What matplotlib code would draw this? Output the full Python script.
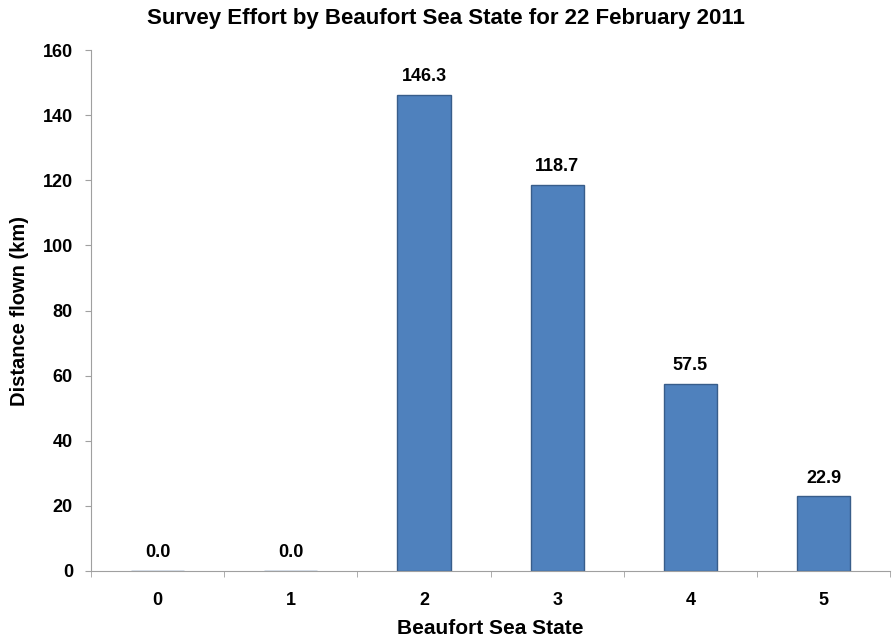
import matplotlib.pyplot as plt
import numpy as np

plt.rcParams['font.family'] = ['Liberation Sans', 'DejaVu Sans']
plt.rcParams['font.weight'] = 'bold'

# data
sea_states = ['0', '1', '2', '3', '4', '5']
distance_km = [0.0, 0.0, 146.3, 118.7, 57.5, 22.9]

fig = plt.figure(figsize=(8.92, 6.43), dpi=100)
ax = fig.add_axes([0.102, 0.112, 0.896, 0.81])

x = np.arange(len(sea_states))
ax.bar(x, distance_km, width=0.4, color='#4F81BD', edgecolor='#385D8A', linewidth=1)

for xi, v in zip(x, distance_km):
    ax.text(xi, v + 3, f'{v:.1f}', ha='center', va='bottom', fontsize=13, fontweight='bold')

ax.set_xlim(-0.5, len(sea_states) - 0.5)
ax.set_ylim(0, 160)
ax.set_yticks(np.arange(0, 161, 20))
ax.set_xticks(x)
ax.set_xticklabels(sea_states)
ax.set_xticks(np.arange(-0.5, len(sea_states), 1), minor=True)
ax.tick_params(axis='x', which='major', length=0, pad=15, labelsize=13)
ax.tick_params(axis='x', which='minor', length=4, color='#A0A0A0')
ax.tick_params(axis='y', length=4, color='#A0A0A0', labelsize=13, pad=9)

for s in ['top', 'right']:
    ax.spines[s].set_visible(False)
for s in ['left', 'bottom']:
    ax.spines[s].set_color('#A0A0A0')

ax.set_xlabel('Beaufort Sea State', fontsize=15, fontweight='bold', labelpad=7)
ax.set_ylabel('Distance flown (km)', fontsize=14.5, fontweight='bold', labelpad=10)
fig.suptitle('Survey Effort by Beaufort Sea State for 22 February 2011',
             fontsize=16, fontweight='bold', y=0.988)

plt.savefig('out.png', dpi=100)
plt.close()
